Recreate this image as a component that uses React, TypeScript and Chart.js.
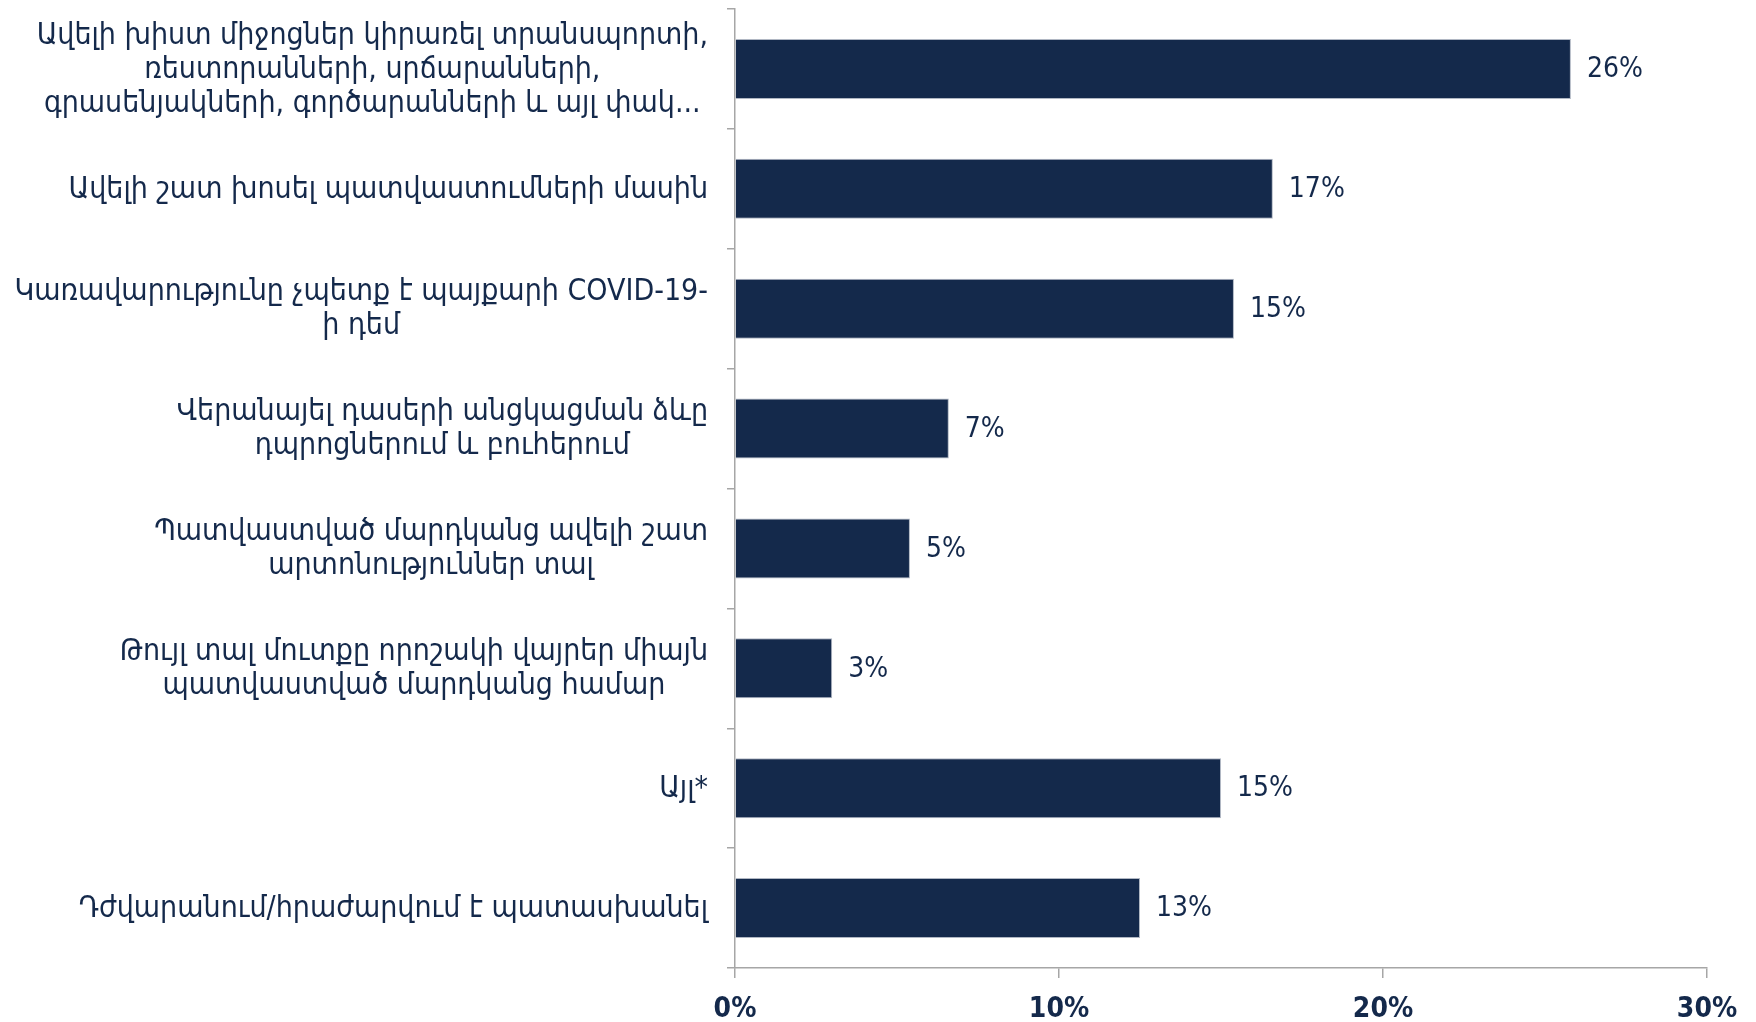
import React, { useEffect, useRef } from "react";
import { Chart, registerables } from "chart.js";

Chart.register(...registerables);

const categories: string[][] = [
  [
    "Ավելի խիստ միջոցներ կիրառել տրանսպորտի,",
    "ռեստորանների, սրճարանների,",
    "գրասենյակների, գործարանների և այլ փակ...",
  ],
  ["Ավելի շատ խոսել պատվաստումների մասին"],
  ["Կառավարությունը չպետք է պայքարի COVID-19-", "ի դեմ"],
  ["Վերանայել դասերի անցկացման ձևը", "դպրոցներում և բուհերում"],
  ["Պատվաստված մարդկանց ավելի շատ", "արտոնություններ տալ"],
  ["Թույլ տալ մուտքը որոշակի վայրեր միայն", "պատվաստված մարդկանց համար"],
  ["Այլ*"],
  ["Դժվարանում/հրաժարվում է պատասխանել"],
];

const values: number[] = [25.8, 16.6, 15.4, 6.6, 5.4, 3.0, 15.0, 12.5];
const valueLabels: string[] = ["26%", "17%", "15%", "7%", "5%", "3%", "15%", "13%"];
const xTickLabels: string[] = ["0%", "10%", "20%", "30%"];

const NAVY = "#14294b";
const AXIS = "#a6a6a6";
const FONT = "'DejaVu Sans Condensed', 'DejaVu Sans', sans-serif";

const categoryLabelPlugin = {
  id: "categoryLabels",
  afterDraw(chart: any) {
    const ctx = chart.ctx;
    const yScale = chart.scales.y;
    const rightEdge = 708;
    const lineH = 34;
    ctx.save();
    ctx.font = `30px ${FONT}`;
    ctx.fillStyle = NAVY;
    ctx.textAlign = "center";
    ctx.textBaseline = "middle";
    categories.forEach((lines, i) => {
      const y = yScale.getPixelForValue(i);
      const widest = Math.max(...lines.map((l) => ctx.measureText(l).width));
      const cx = rightEdge - widest / 2;
      const y0 = y - ((lines.length - 1) * lineH) / 2;
      lines.forEach((l, j) => ctx.fillText(l, cx, y0 + j * lineH + 1));
    });
    ctx.restore();
  },
};

const valueLabelPlugin = {
  id: "valueLabels",
  afterDatasetsDraw(chart: any) {
    const ctx = chart.ctx;
    const meta = chart.getDatasetMeta(0);
    ctx.save();
    ctx.font = `28px ${FONT}`;
    ctx.fillStyle = NAVY;
    ctx.textAlign = "left";
    ctx.textBaseline = "middle";
    meta.data.forEach((el: any, i: number) => {
      ctx.fillText(valueLabels[i], el.x + 16, el.y + 1);
    });
    ctx.restore();
  },
};

export default function App() {
  const ref = useRef<HTMLCanvasElement | null>(null);
  useEffect(() => {
    if (!ref.current) return;
    const chart = new Chart(ref.current, {
      type: "bar",
      data: {
        labels: categories.map((c) => c.join(" ")),
        datasets: [
          {
            data: values,
            backgroundColor: NAVY,
            borderColor: "#b0b7c3",
            borderWidth: 1,
            barPercentage: 0.5,
            categoryPercentage: 1.0,
          },
        ],
      },
      options: {
        indexAxis: "y",
        responsive: false,
        animation: false,
        devicePixelRatio: 1,
        layout: { padding: { top: 9, bottom: 0, left: 0, right: 49 } },
        plugins: { legend: { display: false }, tooltip: { enabled: false } },
        scales: {
          x: {
            type: "linear",
            min: 0,
            max: 30,
            ticks: {
              stepSize: 10,
              color: NAVY,
              font: { family: FONT, size: 28, weight: "bold" },
              padding: 15,
              callback: (_v: any, i: number) => xTickLabels[i],
            },
            grid: {
              drawOnChartArea: false,
              drawTicks: true,
              tickLength: 10,
              color: AXIS,
              lineWidth: 1.5,
            },
            border: { display: true, color: AXIS, width: 1.5 },
            afterFit: (s: any) => {
              s.paddingLeft = 0;
              s.paddingRight = 0;
              s.height = 54;
            },
          },
          y: {
            type: "category",
            ticks: { display: false },
            grid: {
              drawOnChartArea: false,
              drawTicks: true,
              tickLength: 8,
              offset: true,
              color: AXIS,
              lineWidth: 1.5,
            },
            border: { display: true, color: AXIS, width: 1.5 },
            afterFit: (s: any) => {
              s.width = 735;
              s.paddingTop = 0;
              s.paddingBottom = 0;
            },
          },
        },
      } as any,
      plugins: [categoryLabelPlugin, valueLabelPlugin],
    });
    return () => chart.destroy();
  }, []);
  return (
    <div style={{ position: "absolute", left: 0, top: 0, width: 1756, height: 1022, background: "#fff" }}>
      <canvas ref={ref} width={1756} height={1022} style={{ display: "block" }} />
    </div>
  );
}
